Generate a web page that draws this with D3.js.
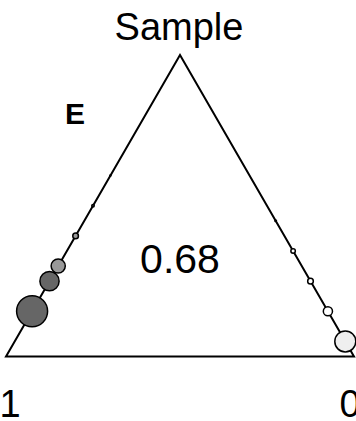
<!DOCTYPE html>
<html>
<head>
<meta charset="utf-8">
<script src="https://cdn.jsdelivr.net/npm/d3@7"></script>
<style>
  body { margin: 0; background: #fff; }
  text { font-family: "Liberation Sans", Arial, Helvetica, sans-serif; fill: #000; }
</style>
</head>
<body>
<svg id="chart"></svg>
<script>
const width = 356;
const height = 421;

// vertex labels of the triangle
const apexLabel = "Sample";
const leftLabel = "1";
const rightLabel = "0";
const panelLabel = "E";
const centerValue = "0.68";

// points on the left edge ("1" -> "Sample"): share toward Sample, weight, shade
const leftShare = [0.15, 0.25, 0.30, 0.40, 0.50, 0.60];
const leftWeight = [240, 92, 50, 8, 1.5, 0.3];
const leftShade = ["dark", "dark", "mid", "mid", "dark", "dark"];

// points on the right edge ("0" -> "Sample")
const rightShare = [0.05, 0.15, 0.25, 0.35, 0.45];
const rightWeight = [110, 21, 8, 5, 0.6];
const rightShade = ["light", "white", "white", "white", "white"];

const shadeColor = d3.scaleOrdinal()
    .domain(["dark", "mid", "light", "white"])
    .range(["#666666", "#999999", "#efefef", "#ffffff"]);

const svg = d3.select("#chart")
    .attr("width", width)
    .attr("height", height);

// triangle corners
const pLeft = [6, 356.5];
const pRight = [354, 356.5];
const pApex = [180, 55];

// share toward the apex -> pixel position, one x and y scale per edge
const leftX = d3.scaleLinear().domain([0, 1]).range([pLeft[0], pApex[0]]);
const leftY = d3.scaleLinear().domain([0, 1]).range([pLeft[1], pApex[1]]);
const rightX = d3.scaleLinear().domain([0, 1]).range([pRight[0], pApex[0]]);
const rightY = d3.scaleLinear().domain([0, 1]).range([pRight[1], pApex[1]]);

const radius = d3.scaleSqrt().domain([0, 240]).range([0, 15.5]);

svg.append("path")
    .attr("d", d3.line()([pLeft, pApex, pRight]) + "Z")
    .attr("fill", "none")
    .attr("stroke", "#000")
    .attr("stroke-width", 2)
    .attr("stroke-linejoin", "miter");

const leftPts = leftShare.map((s, i) => ({ x: leftX(s), y: leftY(s), w: leftWeight[i], shade: leftShade[i] }));
const rightPts = rightShare.map((s, i) => ({ x: rightX(s), y: rightY(s), w: rightWeight[i], shade: rightShade[i] }));

svg.selectAll("circle.pt")
    .data(leftPts.concat(rightPts))
    .join("circle")
    .attr("class", "pt")
    .attr("cx", d => d.x)
    .attr("cy", d => d.y)
    .attr("r", d => radius(d.w))
    .attr("fill", d => shadeColor(d.shade))
    .attr("stroke", "#000")
    .attr("stroke-width", 1.5);

svg.append("text")
    .attr("x", 179).attr("y", 40)
    .attr("text-anchor", "middle")
    .style("font-size", "38px")
    .text(apexLabel);

svg.append("text")
    .attr("x", 180).attr("y", 273)
    .attr("text-anchor", "middle")
    .style("font-size", "41px")
    .text(centerValue);

svg.append("text")
    .attr("x", 65).attr("y", 124)
    .style("font-size", "30px")
    .style("font-weight", "bold")
    .text(panelLabel);

svg.append("text")
    .attr("x", pLeft[0] + 4).attr("y", 417)
    .attr("text-anchor", "middle")
    .style("font-size", "38px")
    .text(leftLabel);

svg.append("text")
    .attr("x", pRight[0] - 4).attr("y", 417)
    .attr("text-anchor", "middle")
    .style("font-size", "38px")
    .text(rightLabel);
</script>
</body>
</html>
